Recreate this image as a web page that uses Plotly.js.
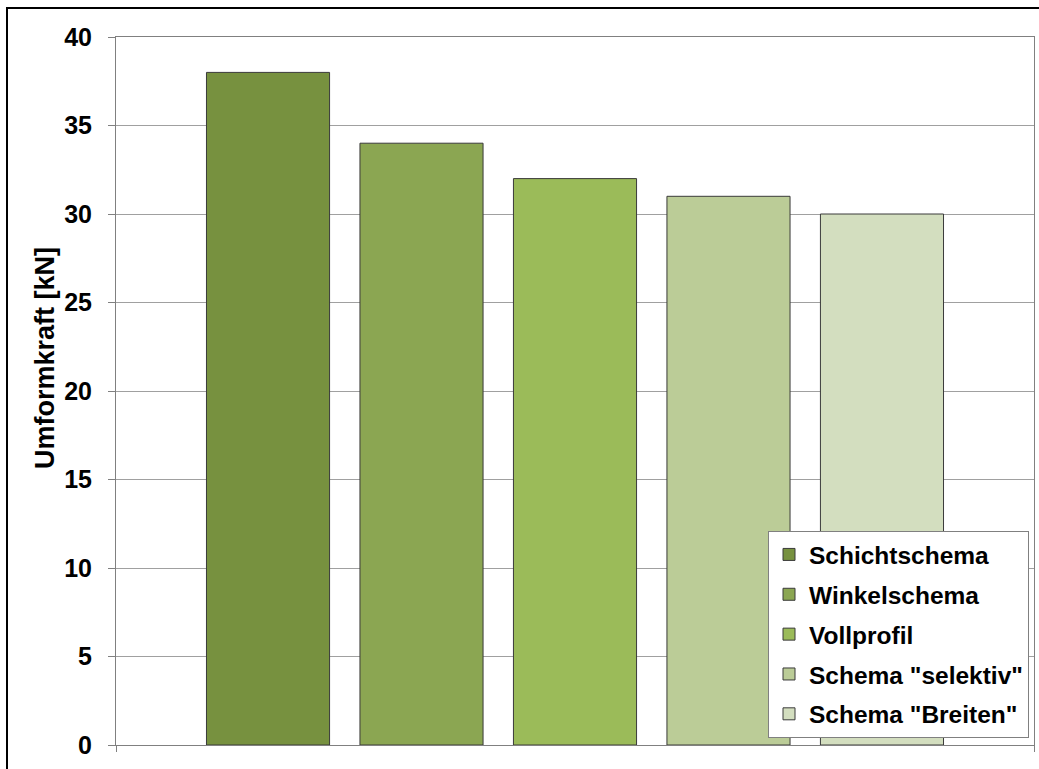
<!DOCTYPE html>
<html>
<head>
<meta charset="utf-8">
<script src="https://cdn.plot.ly/plotly-3.0.1.min.js"></script>
<style>
html,body{margin:0;padding:0;background:#fff;}
#chart{width:1039px;height:769px;}
</style>
</head>
<body>
<div id="chart"></div>
<script>
const seriesNames = ["Schichtschema", "Winkelschema", "Vollprofil", "Schema \"selektiv\"", "Schema \"Breiten\""];
const seriesValues = [38, 34, 32, 31, 30];
const seriesColors = ["#77913F", "#8BA652", "#9BBB59", "#BBCC97", "#D3DEBF"];
const yTickValues = [0, 5, 10, 15, 20, 25, 30, 35, 40];
const yTitle = "Umformkraft [kN]";

const fontFamily = "Liberation Sans, Arial, sans-serif";

const traces = seriesNames.map((name, i) => ({
  type: "bar",
  name: name,
  x: [0],
  y: [seriesValues[i]],
  legendgroup: "g" + i,
  marker: { color: seriesColors[i], line: { color: "#3a3a3a", width: 1 } },
  hoverinfo: "name+y"
}));

const W = 1039, H = 769;
const L = 116, R = 1034, T = 37, B = 745;
const pw = R - L, ph = B - T;
const px = v => (v - L) / pw;
const py = v => (B - v) / ph;

const layout = {
  width: W,
  height: H,
  margin: { l: L, r: W - R, t: T, b: H - B, pad: 0 },
  paper_bgcolor: "#ffffff",
  plot_bgcolor: "#ffffff",
  font: { family: fontFamily, size: 24, color: "#000000", weight: "bold" },
  barmode: "group",
  bargap: 0.164,
  bargroupgap: 0.198,
  showlegend: true,
  legend: {
    x: px(1029),
    xanchor: "right",
    y: py(738),
    yanchor: "bottom",
    bgcolor: "#ffffff",
    bordercolor: "#808080",
    borderwidth: 1,
    font: { family: fontFamily, size: 24.5, color: "#000000", weight: "bold" },
    tracegroupgap: 5,
    traceorder: "grouped"
  },
  xaxis: {
    range: [-0.5, 0.5],
    showticklabels: false,
    tickvals: [-0.5, 0.5],
    ticks: "outside",
    ticklen: 6,
    tickcolor: "#808080",
    showgrid: false,
    zeroline: false,
    showline: true,
    linecolor: "#808080",
    linewidth: 1,
    mirror: true,
    fixedrange: true
  },
  yaxis: {
    range: [0, 40],
    tickvals: yTickValues,
    ticktext: yTickValues.map(String),
    ticks: "outside",
    ticklen: 7,
    tickcolor: "#808080",
    ticklabelstandoff: 11,
    tickfont: { family: fontFamily, size: 25, color: "#000000", weight: "bold" },
    showgrid: true,
    gridcolor: "#a0a0a0",
    gridwidth: 1,
    zeroline: false,
    showline: true,
    linecolor: "#808080",
    linewidth: 1,
    mirror: true,
    fixedrange: true
  },
  annotations: [
    {
      text: yTitle,
      xref: "paper", yref: "paper",
      x: px(45), y: py(358),
      xanchor: "center", yanchor: "middle",
      textangle: -90,
      showarrow: false,
      font: { family: fontFamily, size: 27, color: "#000000", weight: "bold" }
    }
  ],
  shapes: [
    {
      type: "rect",
      xref: "paper", yref: "paper",
      x0: px(7), x1: px(1060),
      y0: py(790), y1: py(8),
      line: { color: "#000000", width: 2 },
      fillcolor: "rgba(0,0,0,0)",
      layer: "above"
    }
  ]
};

Plotly.newPlot("chart", traces, layout, { displayModeBar: false, staticPlot: true });
</script>
</body>
</html>
